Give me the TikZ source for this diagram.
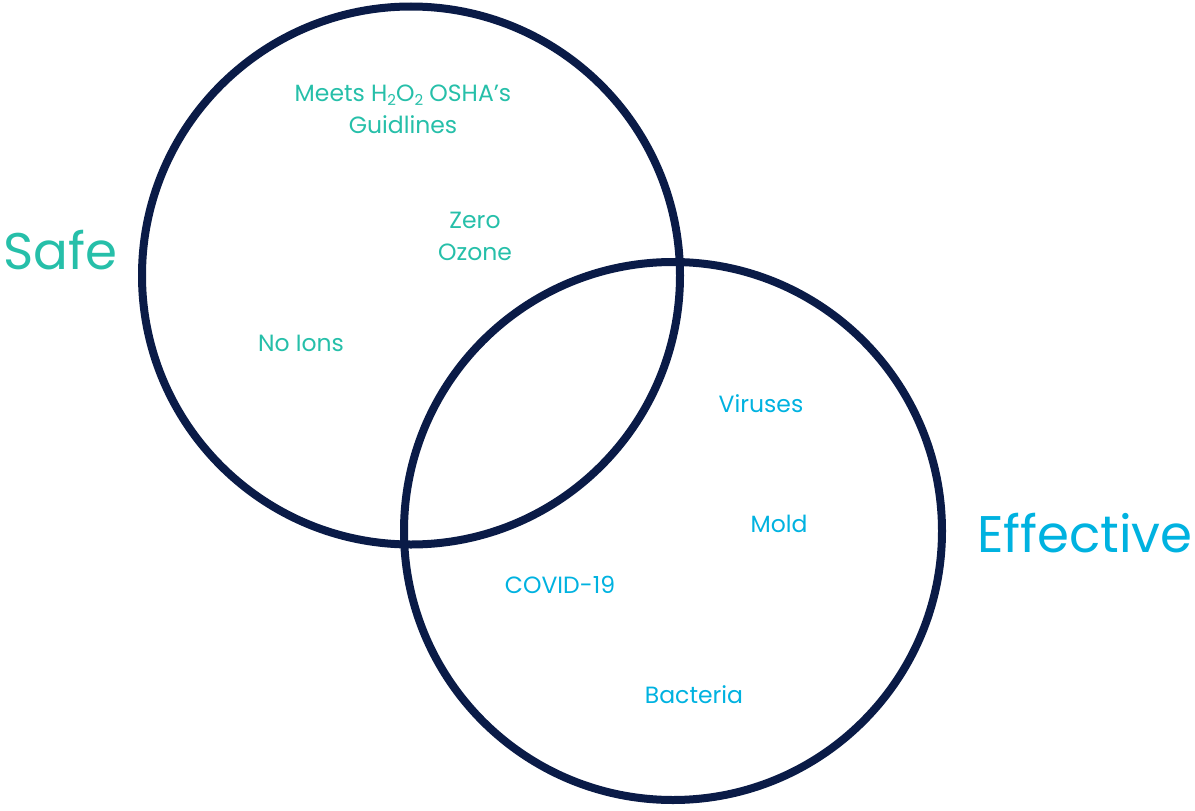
\documentclass[tikz,border=0pt]{standalone}
\usepackage{fontspec}
\setmainfont{Poppins}
\definecolor{navy}{HTML}{0A1B47}
\definecolor{teal}{HTML}{26BFA9}
\definecolor{cyanb}{HTML}{00B2E0}
\newcommand{\subtwo}{\raisebox{-0.35ex}{\fontsize{15}{15}\selectfont 2}}
\begin{document}
\begin{tikzpicture}[x=1pt,y=-1pt,
  ring/.style={draw=navy,line width=8pt,circle,minimum size=538pt,inner sep=0pt},
  safelbl/.style={text=teal,font=\fontsize{23.5}{32}\selectfont,align=center,inner sep=0pt},
  efflbl/.style={text=cyanb,font=\fontsize{23.5}{32}\selectfont,align=center,inner sep=0pt},
  bigsafe/.style={text=teal,font=\fontsize{51.5}{60}\selectfont,inner sep=0pt},
  bigeff/.style={text=cyanb,font=\fontsize{51.5}{60}\selectfont,inner sep=0pt}]
\useasboundingbox (0,0) rectangle (1195,811);
\node[ring] (safe) at (411,275.5) {};
\node[ring] (eff) at (673,531) {};
\node[safelbl] (osha) at (403,109) {Meets H\subtwo O\subtwo\ OSHA’s\\Guidlines};
\node[safelbl] (ozone) at (475,236) {Zero\\Ozone};
\node[safelbl] (ions) at (301,343) {No Ions};
\node[bigsafe,anchor=west] (safet) at (3,250) {Safe};
\node[efflbl] (vir) at (761,404) {Viruses};
\node[efflbl] (mold) at (779,524) {Mold};
\node[efflbl] (covid) at (560,585) {COVID-19};
\node[efflbl] (bact) at (694,695) {Bacteria};
\node[bigeff,anchor=east] (efft) at (1193,533) {Effective};
\end{tikzpicture}
\end{document}
